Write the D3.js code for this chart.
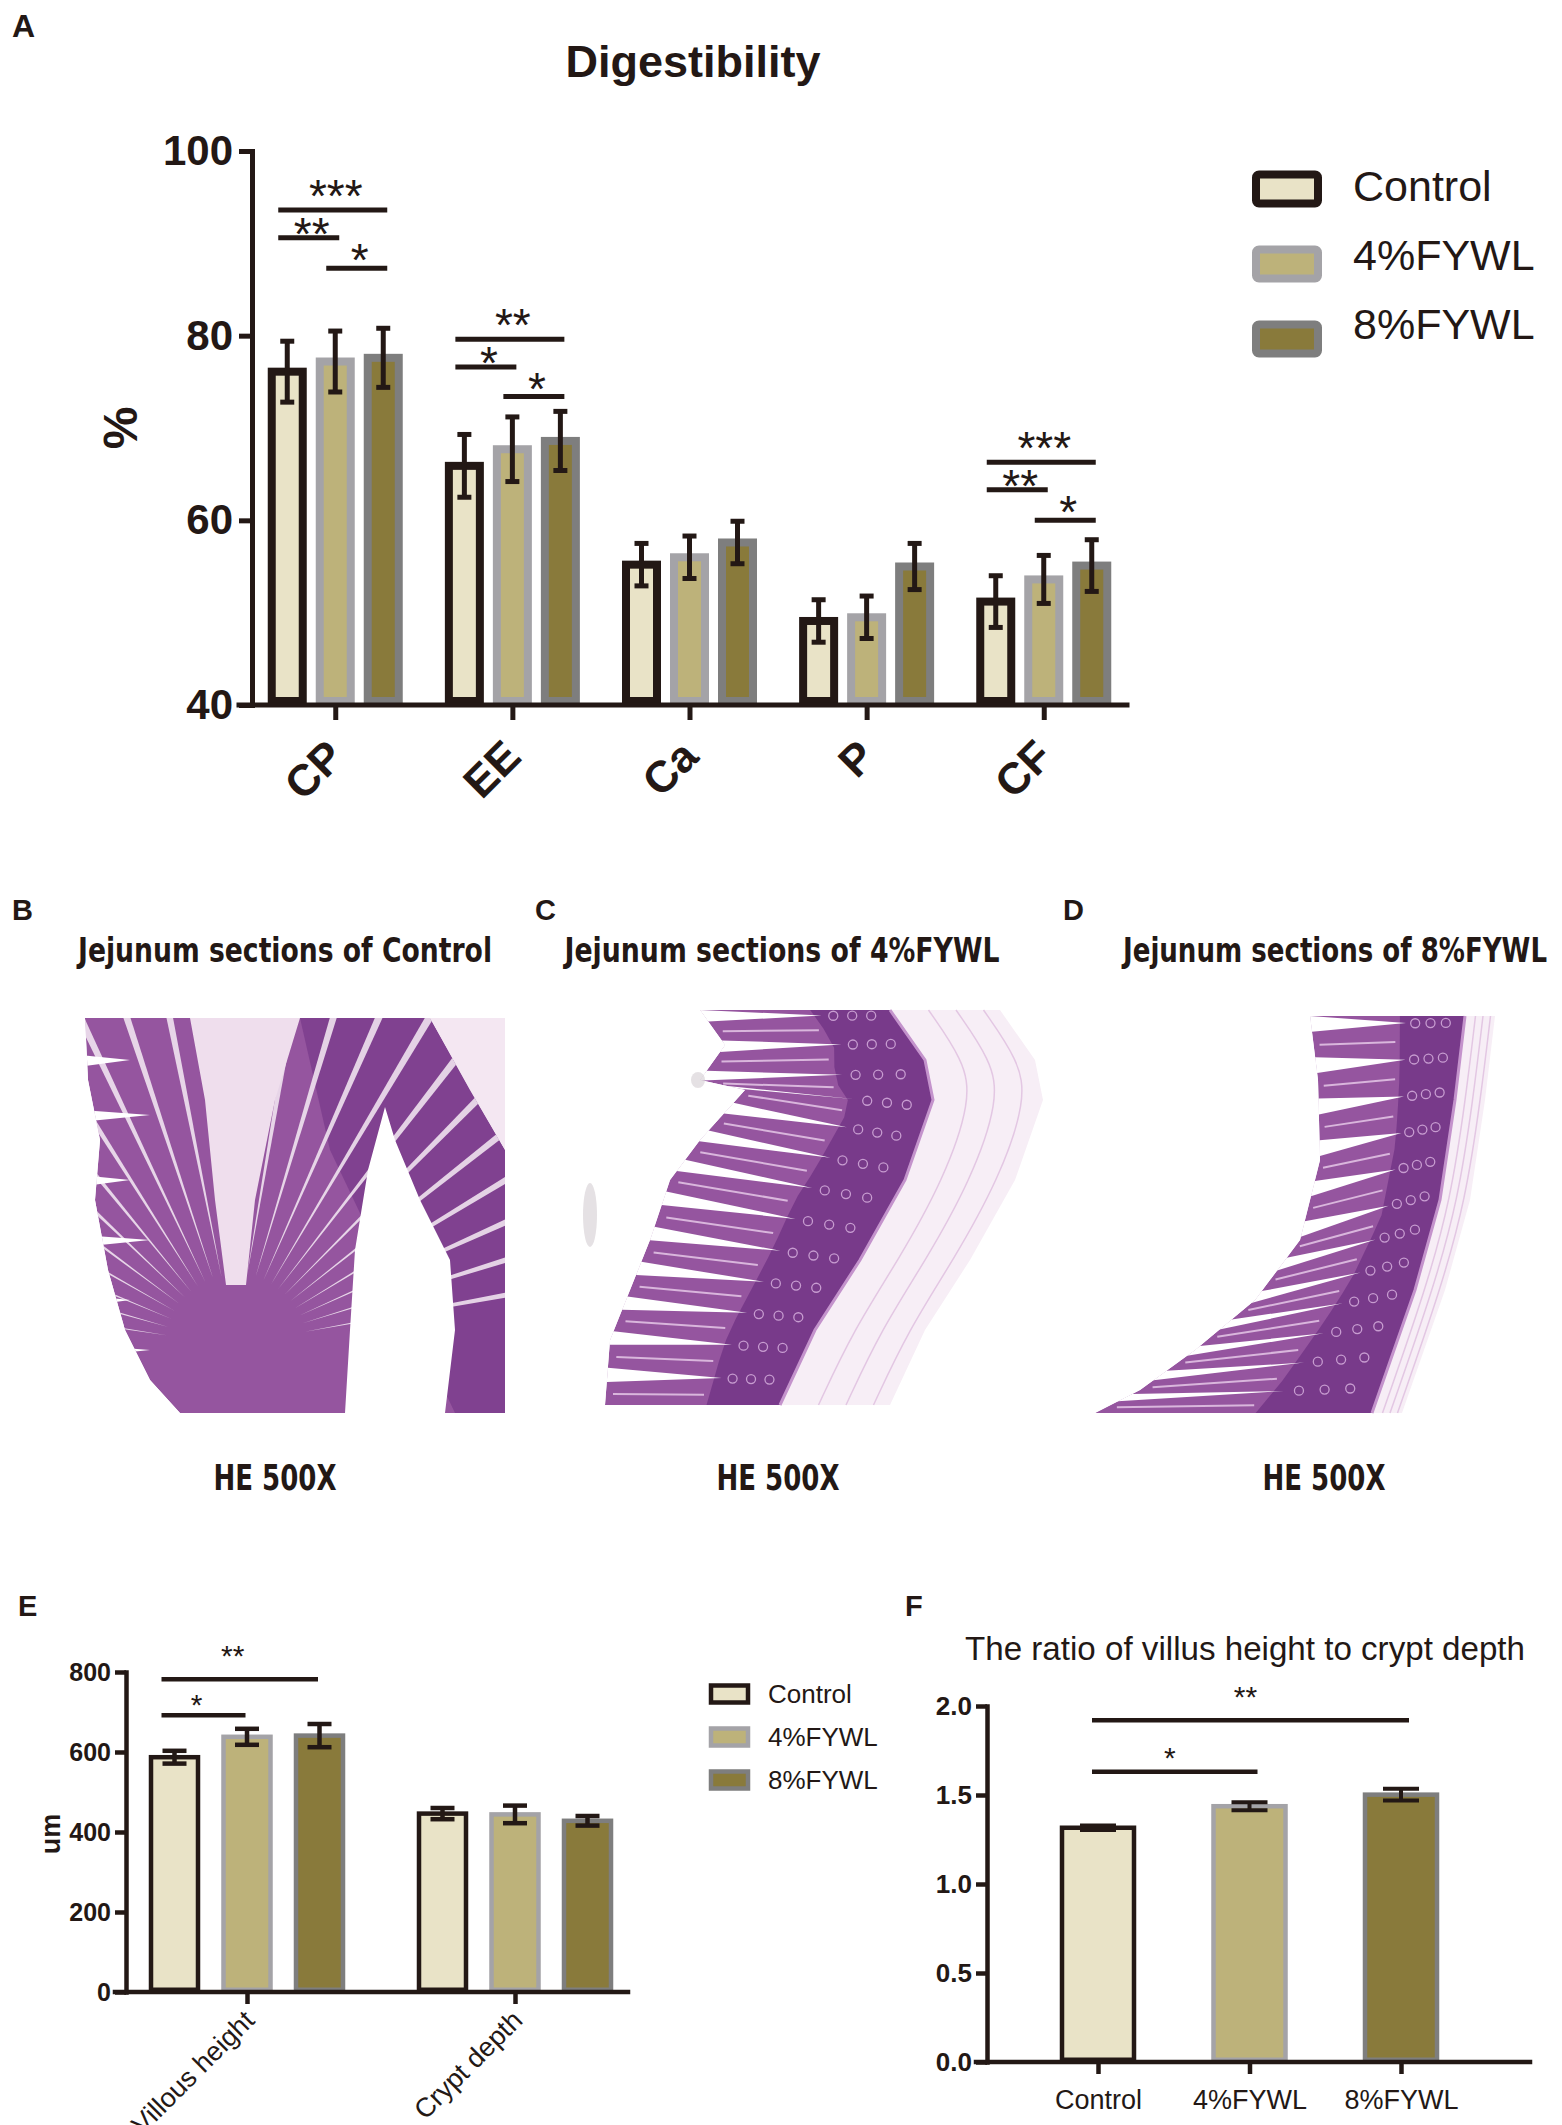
<!DOCTYPE html>
<html>
<head>
<meta charset="utf-8">
<title>Digestibility and jejunum morphology</title>
<script src="https://cdn.jsdelivr.net/npm/d3@7/dist/d3.min.js"></script>
<style>
  body { margin: 0; background: #fff; }
  svg { display: block; }
</style>
</head>
<body>
<svg id="figure" width="1562" height="2125"></svg>
<script>
(function() {
  // ---- values ----
  const groups = ['Control', '4%FYWL', '8%FYWL'];

  // A: digestibility (%)
  const nutrients = ['CP', 'EE', 'Ca', 'P', 'CF'];
  const digControl = [76.1, 65.9, 55.2, 49.1, 51.2];
  const dig4 = [77.2, 67.7, 56.0, 49.5, 53.6];
  const dig8 = [77.6, 68.6, 57.6, 55.0, 55.1];
  const digErrControl = [3.3, 3.4, 2.3, 2.3, 2.8];
  const digErr4 = [3.3, 3.5, 2.3, 2.3, 2.6];
  const digErr8 = [3.2, 3.2, 2.3, 2.5, 2.8];
  const digTicks = [40, 60, 80, 100];
  const digSig = [
    {cat: 'CP', from: 0, to: 2, at: 93.6, mark: '***'},
    {cat: 'CP', from: 0, to: 1, at: 90.6, mark: '**'},
    {cat: 'CP', from: 1, to: 2, at: 87.3, mark: '*'},
    {cat: 'EE', from: 0, to: 2, at: 79.6, mark: '**'},
    {cat: 'EE', from: 0, to: 1, at: 76.6, mark: '*'},
    {cat: 'EE', from: 1, to: 2, at: 73.4, mark: '*'},
    {cat: 'CF', from: 0, to: 2, at: 66.3, mark: '***'},
    {cat: 'CF', from: 0, to: 1, at: 63.3, mark: '**'},
    {cat: 'CF', from: 1, to: 2, at: 60.0, mark: '*'}
  ];

  // E: villus height / crypt depth (um)
  const villiCats = ['Villous height', 'Crypt depth'];
  const villiControl = [587, 446];
  const villi4 = [638, 444];
  const villi8 = [641, 428];
  const villiErrControl = [16, 14];
  const villiErr4 = [20, 22];
  const villiErr8 = [29, 12];
  const villiTicks = [0, 200, 400, 600, 800];
  const villiSig = [
    {cat: 'Villous height', from: 0, to: 2, at: 782, mark: '**'},
    {cat: 'Villous height', from: 0, to: 1, at: 692, mark: '*'}
  ];

  // F: villus height / crypt depth ratio
  const ratioMean = [1.316, 1.437, 1.502];
  const ratioErr = [0.012, 0.022, 0.033];
  const ratioTicks = [0, 0.5, 1.0, 1.5, 2.0];
  const ratioSig = [
    {from: 0, to: 2, at: 1.92, mark: '**'},
    {from: 0, to: 1, at: 1.63, mark: '*'}
  ];

  // ---- styles ----
  const ink = '#231815';
  const fills = ['#e9e3c7', '#bdb27a', '#897a3b'];
  const edges = [ink, '#a4a3a7', '#7e7e7e'];
  const sans = '"Liberation Sans", Arial, Helvetica, sans-serif';
  const narrow = '"Liberation Sans Narrow", "DejaVu Sans Condensed", "Arial Narrow", sans-serif';

  const svg = d3.select('#figure');
  svg.append('rect').attr('width', 1562).attr('height', 2125).attr('fill', '#fff');
  const defs = svg.append('defs');

  function text(g, x, y, str, size, weight, anchor, family) {
    return g.append('text')
      .attr('x', x).attr('y', y)
      .attr('font-family', family || sans)
      .attr('font-size', size)
      .attr('font-weight', weight || 'normal')
      .attr('text-anchor', anchor || 'start')
      .attr('fill', ink)
      .text(str);
  }

  function rowsOf(cats, means, errs) {
    let rows = [];
    cats.forEach(function(c, i) {
      means.forEach(function(m, j) {
        rows.push({cat: c, g: j, v: m[i], e: errs[j][i]});
      });
    });
    return rows;
  }

  function drawBars(g, rows, cx, y, base, o) {
    g.selectAll(null).data(rows).join('rect')
      .attr('x', d => cx(d) - o.w / 2)
      .attr('width', o.w)
      .attr('y', d => y(d.v))
      .attr('height', d => y(base) - y(d.v) - o.sw / 2)
      .attr('fill', d => fills[d.g])
      .attr('stroke', d => edges[d.g])
      .attr('stroke-width', o.sw);

    let eb = g.selectAll(null).data(rows).join('g')
      .attr('stroke', ink)
      .attr('stroke-width', o.ew)
      .attr('fill', 'none');
    eb.append('line')
      .attr('x1', d => cx(d)).attr('x2', d => cx(d))
      .attr('y1', d => y(d.v + d.e)).attr('y2', d => y(d.v - d.e));
    eb.append('line')
      .attr('x1', d => cx(d) - o.cap).attr('x2', d => cx(d) + o.cap)
      .attr('y1', d => y(d.v + d.e)).attr('y2', d => y(d.v + d.e));
    eb.append('line')
      .attr('x1', d => cx(d) - o.cap).attr('x2', d => cx(d) + o.cap)
      .attr('y1', d => y(d.v - d.e)).attr('y2', d => y(d.v - d.e));
  }

  // gaps: [wide bracket, left pair, right pair]
  function drawSig(g, list, xOf, y, o) {
    list.forEach(function(s) {
      let x1 = xOf(s, s.from) + o.left;
      let x2 = xOf(s, s.to) + o.right;
      let gap = s.to - s.from > 1 ? o.gaps[0] : o.gaps[s.from + 1];
      g.append('line')
        .attr('x1', x1).attr('x2', x2)
        .attr('y1', y(s.at)).attr('y2', y(s.at))
        .attr('stroke', ink).attr('stroke-width', o.sw);
      // asterisk glyph centre sits about half an em above the baseline
      text(g, (x1 + x2) / 2 + o.shift, y(s.at) - gap + 0.5 * o.size, s.mark, o.size, 'normal', 'middle');
    });
  }

  function styleAxis(sel, w, size, weight) {
    sel.select('.domain').attr('stroke', ink).attr('stroke-width', w).attr('stroke-linecap', 'square');
    sel.selectAll('.tick line').attr('stroke', ink).attr('stroke-width', w);
    sel.selectAll('.tick text')
      .attr('fill', ink)
      .attr('font-family', sans)
      .attr('font-size', size)
      .attr('font-weight', weight);
  }

  // ================= A: Digestibility =================
  const gA = svg.append('g');
  text(gA, 12, 37, 'A', 32, 'bold');
  text(gA, 693, 77, 'Digestibility', 45, 'bold', 'middle');

  const yA = d3.scaleLinear().domain([40, 100]).range([705, 151]);
  const xA = d3.scalePoint().domain(nutrients).range([252, 1127]).padding(0.47);
  const offA = d3.scalePoint().domain(d3.range(groups.length)).range([-48, 48]);
  const cxA = d => xA(d.cat) + offA(d.g);

  drawBars(gA, rowsOf(nutrients, [digControl, dig4, dig8], [digErrControl, digErr4, digErr8]),
    cxA, yA, 40, {w: 31, sw: 8, ew: 5, cap: 7});

  const axYA = gA.append('g').attr('transform', 'translate(252,0)')
    .call(d3.axisLeft(yA).tickValues(digTicks).tickSize(13).tickSizeOuter(0).tickPadding(6));
  styleAxis(axYA, 5, 42, 'bold');

  const axXA = gA.append('g').attr('transform', 'translate(0,705)')
    .call(d3.axisBottom(xA).tickSize(15).tickSizeOuter(0));
  styleAxis(axXA, 5, 44, 'bold');
  axXA.select('.domain').attr('d', 'M239,0H1127');
  axXA.selectAll('.tick text').remove();

  gA.selectAll(null).data(nutrients).join('text')
    .attr('transform', c => 'translate(' + (xA(c) + 11) + ',759) rotate(-45)')
    .attr('text-anchor', 'end')
    .attr('font-family', sans).attr('font-size', 44).attr('font-weight', 'bold')
    .attr('fill', ink)
    .text(c => c);

  text(gA, 0, 0, '%', 48, 'bold', 'middle')
    .attr('transform', 'translate(137,428) rotate(-90)');

  drawSig(gA, digSig, (s, j) => xA(s.cat) + offA(j), yA,
    {left: -9, right: 4, sw: 5, gaps: [21, 11, 15], size: 46, shift: 3});

  // legend A
  const lgA = gA.append('g');
  groups.forEach(function(name, j) {
    let cy = 189 + j * 75;
    lgA.append('rect')
      .attr('x', 1256).attr('y', cy - 14.5).attr('width', 62).attr('height', 29)
      .attr('rx', 3)
      .attr('fill', fills[j]).attr('stroke', edges[j]).attr('stroke-width', 8);
    text(lgA, 1353, 201 + j * 69, name, 43);
  });

  // ================= B, C, D: jejunum sections =================
  const gH = svg.append('g');
  const histo = [
    {key: 'B', lx: 12, title: 'Jejunum sections of Control', tx: 285, tw: 414, hx: 275},
    {key: 'C', lx: 535, title: 'Jejunum sections of 4%FYWL', tx: 782, tw: 435, hx: 778},
    {key: 'D', lx: 1063, title: 'Jejunum sections of 8%FYWL', tx: 1335, tw: 424, hx: 1324}
  ];
  histo.forEach(function(h) {
    text(gH, h.lx, 920, h.key, 29, 'bold');
    text(gH, h.tx, 962, h.title, 34, 'bold', 'middle', narrow)
      .attr('textLength', h.tw).attr('lengthAdjust', 'spacingAndGlyphs');
    text(gH, h.hx, 1490, 'HE 500X', 35, 'bold', 'middle', narrow)
      .attr('textLength', 123).attr('lengthAdjust', 'spacingAndGlyphs');
  });

  // stylised H&E sketches
  const villus = '#95559f';
  const crypt = '#6f3283';
  const streak = '#d9b6dc';
  const line = d3.line();

  function along(pts, t) {
    t = Math.max(0, Math.min(1, t));
    let lens = [0];
    for (let i = 1; i < pts.length; i++) {
      lens.push(lens[i - 1] + Math.hypot(pts[i][0] - pts[i - 1][0], pts[i][1] - pts[i - 1][1]));
    }
    let target = t * lens[lens.length - 1];
    for (let i = 1; i < pts.length; i++) {
      if (lens[i] >= target) {
        let k = (target - lens[i - 1]) / (lens[i] - lens[i - 1] || 1);
        return [pts[i - 1][0] + k * (pts[i][0] - pts[i - 1][0]), pts[i - 1][1] + k * (pts[i][1] - pts[i - 1][1])];
      }
    }
    return pts[pts.length - 1];
  }
  const mix = (p, q, f) => [p[0] + f * (q[0] - p[0]), p[1] + f * (q[1] - p[1])];

  function band(id, inner, outer, serosa, nVilli) {
    let poly = inner.concat(outer.slice().reverse());
    defs.append('clipPath').attr('id', id).append('path').attr('d', line(poly) + 'Z');
    let g = gH.append('g');
    // loose submucosa beyond the muscle line
    let shifted = outer.map(p => [p[0] + serosa, p[1]]);
    g.append('path').attr('d', line(outer.concat(shifted.slice().reverse())) + 'Z')
      .attr('fill', '#f7eef6');
    [0.35, 0.6, 0.85].forEach(function(f) {
      g.append('path').attr('d', d3.line().curve(d3.curveBasis)(outer.map(p => [p[0] + serosa * f, p[1]])))
        .attr('fill', 'none').attr('stroke', '#e3c7e3').attr('stroke-width', 1.5);
    });

    let c = g.append('g').attr('clip-path', 'url(#' + id + ')');
    c.append('path').attr('d', line(poly) + 'Z').attr('fill', villus);
    let mid = d3.range(0, 1.0001, 0.05).map(t => mix(along(inner, t), along(outer, t), 0.58));
    c.append('path').attr('d', line(mid.concat(outer.slice().reverse())) + 'Z')
      .attr('fill', crypt).attr('opacity', 0.75);

    for (let k = 0; k < nVilli; k++) {
      let t0 = k / nVilli, t1 = (k + 0.38) / nVilli, tm = (k + 0.19) / nVilli;
      let p0 = along(inner, t0), p1 = along(inner, t1);
      let apex = mix(along(inner, tm), along(outer, tm), 0.62);
      let out0 = mix(p0, along(outer, t0), -0.3), out1 = mix(p1, along(outer, t1), -0.3);
      c.append('path').attr('d', line([out0, p0, apex, p1, out1]) + 'Z').attr('fill', '#fff');
      // core of each villus
      let tc = (k + 0.7) / nVilli;
      let a = along(inner, tc), b = along(outer, tc);
      c.append('line')
        .attr('x1', mix(a, b, 0.04)[0]).attr('y1', mix(a, b, 0.04)[1])
        .attr('x2', mix(a, b, 0.55)[0]).attr('y2', mix(a, b, 0.55)[1])
        .attr('stroke', streak).attr('stroke-width', 2);
      // crypt openings
      [0.68, 0.78, 0.88].forEach(function(f) {
        let q = mix(along(inner, (k + 0.2) / nVilli), along(outer, (k + 0.2) / nVilli), f);
        c.append('circle').attr('cx', q[0]).attr('cy', q[1]).attr('r', 4.5)
          .attr('fill', 'none').attr('stroke', '#c79cd0').attr('stroke-width', 1.3);
      });
    }
    g.append('path').attr('d', line(outer)).attr('fill', 'none')
      .attr('stroke', '#c493cc').attr('stroke-width', 3);
  }

  // B: control, villi fanning round a pale core
  (function() {
    let outline = [[85, 1018], [430, 1018], [470, 1090], [505, 1150], [505, 1413], [180, 1413],
      [150, 1380], [125, 1330], [108, 1270], [95, 1200], [100, 1140], [88, 1080]];
    defs.append('clipPath').attr('id', 'clipB').append('path').attr('d', line(outline) + 'Z');
    let g = gH.append('g');
    g.append('path').attr('d', line([[430, 1018], [505, 1018], [505, 1150], [470, 1090]]) + 'Z')
      .attr('fill', '#f4e7f2');
    let c = g.append('g').attr('clip-path', 'url(#clipB)');
    c.append('path').attr('d', line(outline) + 'Z').attr('fill', villus);
    c.append('path').attr('d', line([[300, 1018], [430, 1018], [505, 1150], [505, 1413], [455, 1413], [330, 1150]]) + 'Z')
      .attr('fill', crypt).attr('opacity', 0.55);
    d3.range(-172, -6, 7).forEach(function(a) {
      let r = a * Math.PI / 180, r2 = (a + 1.2) * Math.PI / 180;
      let p = [236 + 70 * Math.cos(r), 1345 + 70 * Math.sin(r)];
      let q1 = [236 + 480 * Math.cos(r), 1345 + 480 * Math.sin(r)];
      let q2 = [236 + 480 * Math.cos(r2), 1345 + 480 * Math.sin(r2)];
      c.append('path').attr('d', line([p, q1, q2]) + 'Z').attr('fill', '#f6ecf5').attr('opacity', 0.85);
    });
    [1060, 1115, 1180, 1240, 1300, 1350].forEach(function(yy, i) {
      c.append('path').attr('d', line([[70, yy - 6], [130 + (i % 2) * 20, yy], [70, yy + 8]]) + 'Z')
        .attr('fill', '#fff');
    });
    c.append('path')
      .attr('d', line([[190, 1018], [300, 1018], [275, 1100], [255, 1200], [246, 1285], [226, 1285], [215, 1200], [205, 1100]]) + 'Z')
      .attr('fill', '#efdeed');
    c.append('path')
      .attr('d', line([[385, 1107], [395, 1140], [420, 1200], [450, 1260], [455, 1330], [445, 1413],
        [345, 1413], [350, 1330], [355, 1250], [368, 1170]]) + 'Z')
      .attr('fill', '#fff');
  })();

  // C: 4%FYWL, villi along a curved wall
  band('clipC',
    [[700, 1010], [725, 1045], [700, 1080], [745, 1090], [700, 1140], [670, 1180], [650, 1240], [630, 1290], [610, 1340], [605, 1405]],
    [[890, 1010], [925, 1060], [933, 1100], [905, 1180], [860, 1260], [815, 1330], [780, 1405]],
    110, 13);
  gH.append('ellipse').attr('cx', 590).attr('cy', 1215).attr('rx', 7).attr('ry', 32)
    .attr('fill', '#d4cdd2').attr('opacity', 0.6);
  gH.append('ellipse').attr('cx', 698).attr('cy', 1080).attr('rx', 7).attr('ry', 8)
    .attr('fill', '#d4cdd2').attr('opacity', 0.6);

  // D: 8%FYWL, villi along the right wall
  band('clipD',
    [[1310, 1016], [1318, 1080], [1320, 1160], [1300, 1240], [1255, 1300], [1195, 1350], [1140, 1390], [1095, 1413]],
    [[1465, 1016], [1455, 1100], [1440, 1200], [1415, 1290], [1372, 1413]],
    30, 12);

  // ================= E: villus height and crypt depth =================
  const gE = svg.append('g');
  text(gE, 18, 1616, 'E', 29, 'bold');

  const yE = d3.scaleLinear().domain([0, 800]).range([1992, 1672]);
  const xE = d3.scalePoint().domain(villiCats).range([247, 515]);
  const offE = d3.scalePoint().domain(d3.range(groups.length)).range([-72.5, 72.5]);
  const cxE = d => xE(d.cat) + offE(d.g);

  drawBars(gE, rowsOf(villiCats, [villiControl, villi4, villi8], [villiErrControl, villiErr4, villiErr8]),
    cxE, yE, 0, {w: 47, sw: 4.5, ew: 4.5, cap: 12});

  const axYE = gE.append('g').attr('transform', 'translate(126,0)')
    .call(d3.axisLeft(yE).tickValues(villiTicks).tickSize(11).tickSizeOuter(0).tickPadding(4));
  styleAxis(axYE, 4.5, 25, 'bold');

  const axXE = gE.append('g').attr('transform', 'translate(0,1992)')
    .call(d3.axisBottom(xE).tickSize(12).tickSizeOuter(0));
  styleAxis(axXE, 4.5, 27, 'normal');
  axXE.select('.domain').attr('d', 'M115,0H628');
  axXE.selectAll('.tick text').remove();

  gE.selectAll(null).data(villiCats).join('text')
    .attr('transform', c => 'translate(' + (xE(c) + 9) + ',2022) rotate(-45)')
    .attr('text-anchor', 'end')
    .attr('font-family', sans).attr('font-size', 27)
    .attr('fill', ink)
    .text(c => c);

  text(gE, 0, 0, 'um', 27, 'bold', 'middle')
    .attr('transform', 'translate(60,1834) rotate(-90)');

  drawSig(gE, villiSig, (s, j) => xE(s.cat) + offE(j), yE,
    {left: -13, right: -1.5, sw: 4.5, gaps: [28, 15, 15], size: 30, shift: -7});

  const lgE = gE.append('g');
  groups.forEach(function(name, j) {
    let cy = 1694 + j * 43;
    lgE.append('rect')
      .attr('x', 711).attr('y', cy - 8.5).attr('width', 37).attr('height', 17)
      .attr('fill', fills[j]).attr('stroke', edges[j]).attr('stroke-width', 4.5);
    text(lgE, 768, cy + 9, name, 26);
  });

  // ================= F: ratio =================
  const gF = svg.append('g');
  text(gF, 905, 1616, 'F', 29, 'bold');
  text(gF, 1245, 1660, 'The ratio of villus height to crypt depth', 34, 'normal', 'middle')
    .attr('textLength', 560).attr('lengthAdjust', 'spacingAndGlyphs');

  const yF = d3.scaleLinear().domain([0, 2]).range([2062, 1706]);
  const xF = d3.scalePoint().domain(groups).range([1098, 1401]);
  const ratioRows = groups.map((name, j) => ({cat: name, g: j, v: ratioMean[j], e: ratioErr[j]}));

  drawBars(gF, ratioRows, d => xF(d.cat), yF, 0, {w: 72, sw: 4.5, ew: 4, cap: 18});

  const axYF = gF.append('g').attr('transform', 'translate(987,0)')
    .call(d3.axisLeft(yF).tickValues(ratioTicks).tickFormat(d3.format('.1f'))
      .tickSize(11).tickSizeOuter(0).tickPadding(4));
  styleAxis(axYF, 4.5, 26, 'bold');

  const axXF = gF.append('g').attr('transform', 'translate(0,2062)')
    .call(d3.axisBottom(xF).tickSize(12).tickSizeOuter(0).tickPadding(16));
  styleAxis(axXF, 4.5, 27, 'normal');
  axXF.select('.domain').attr('d', 'M976,0H1530');

  drawSig(gF, ratioSig, (s, j) => xF(groups[j]), yF,
    {left: -6, right: 8, sw: 4.5, gaps: [28, 19, 19], size: 30, shift: -5});
})();
</script>
</body>
</html>
